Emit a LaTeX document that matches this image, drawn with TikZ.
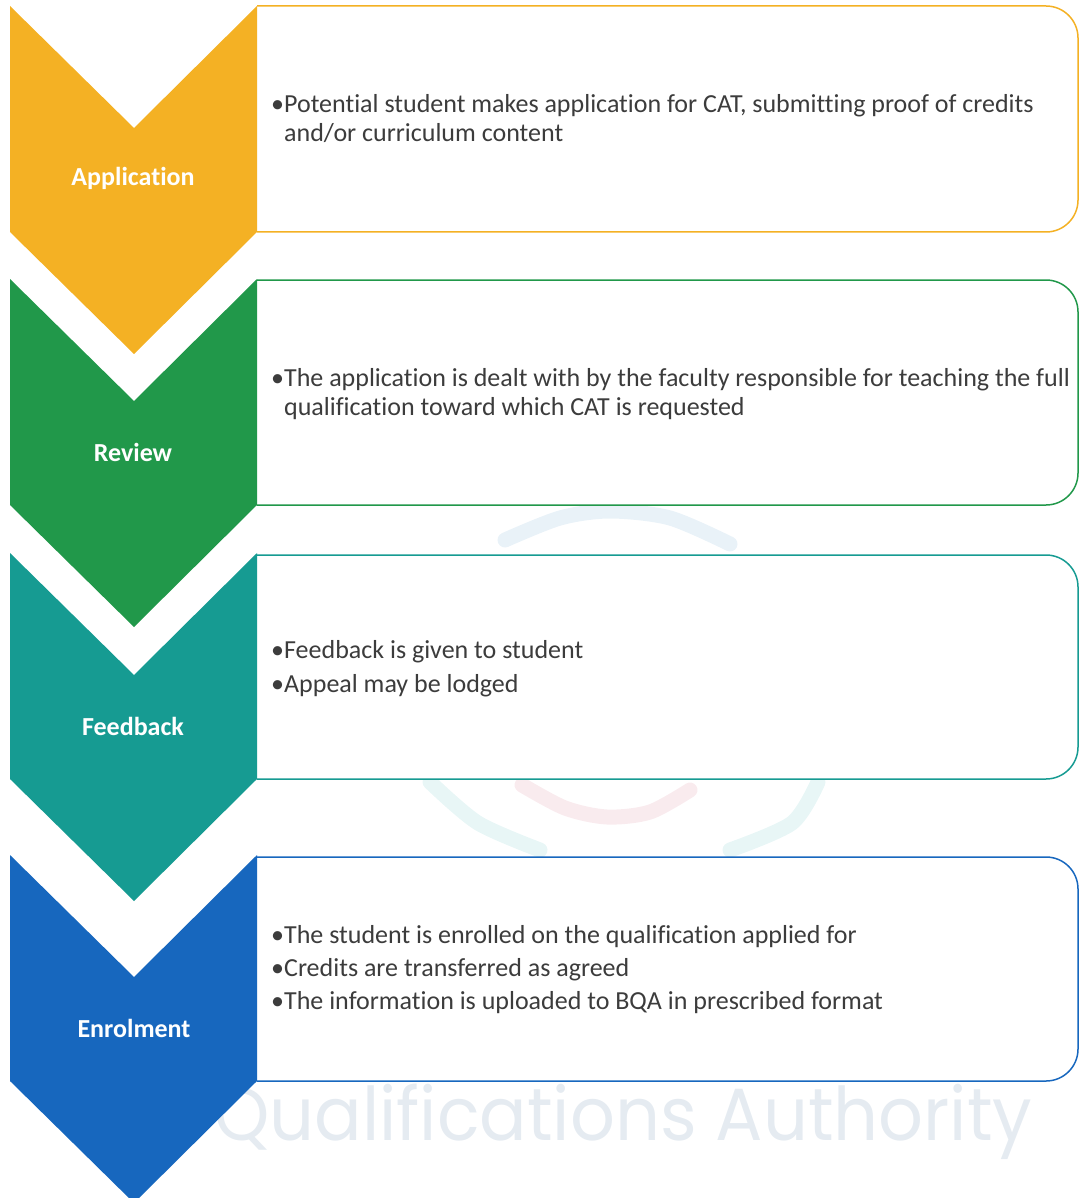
\documentclass[tikz,border=0pt]{standalone}
\usepackage{fontspec}
\setmainfont{Carlito}[Ligatures=NoCommon]
\newfontfamily\markfont{Poppins}
\usepackage{tikz}

\definecolor{appyellow}{HTML}{F4B124}
\definecolor{revgreen}{HTML}{21984A}
\definecolor{fbteal}{HTML}{169B92}
\definecolor{enrblue}{HTML}{1767BE}
\definecolor{textgray}{HTML}{3C3C3C}
\definecolor{markgray}{HTML}{E5EBF1}
\definecolor{markblue}{HTML}{E9F2F8}
\definecolor{markcyan}{HTML}{E8F6F6}
\definecolor{markpink}{HTML}{F9EBEE}

\tikzset{
    stepbox/.style={draw=#1, line width=1.5pt, fill=white, rounded corners=32pt},
    steplabel/.style={text=white, font=\fontsize{26}{30}\selectfont\bfseries},
    steptext/.style={text=textgray, anchor=base west, inner sep=0pt,
        font=\fontsize{26}{29}\selectfont},
    markarc/.style={line width=15pt, line cap=round}
}

\begin{document}
\begin{tikzpicture}[x=1pt,y=-1pt]
    \useasboundingbox (0,0) rectangle (1079,1198);
    % watermark
    \draw[markarc, markblue] plot[smooth] coordinates {(505,540) (560,518) (610,511) (670,518) (730,544)};
    \draw[markarc, markcyan] plot[smooth] coordinates {(430,782) (478,823) (540,850)};
    \draw[markarc, markcyan] plot[smooth] coordinates {(818,782) (792,823) (730,850)};
    \draw[markarc, markpink] plot[smooth] coordinates {(522,785) (565,808) (607,817) (650,812) (690,790)};
    \node[text=markgray, font=\markfont\fontsize{74}{80}\selectfont, anchor=base west, xscale=0.95, inner sep=0pt] (mark) at (214,1140) {Qualifications Authority};
    % boxes
    \draw[stepbox=appyellow] (257,232) -- (1078,232) -- (1078,6) -- (257,6);
    \draw[stepbox=revgreen] (257,505) -- (1078,505) -- (1078,280) -- (257,280);
    \draw[stepbox=fbteal] (257,779) -- (1078,779) -- (1078,555) -- (257,555);
    \draw[stepbox=enrblue] (257,1081) -- (1078,1081) -- (1078,857) -- (257,857);
    % chevrons
    \fill[appyellow] (10,6) -- (134,128) -- (257,6) -- (257,232) -- (134,354) -- (10,232) -- cycle;
    \fill[revgreen] (10,279) -- (134,401) -- (257,279) -- (257,505) -- (134,627) -- (10,505) -- cycle;
    \fill[fbteal] (10,553) -- (134,675) -- (257,553) -- (257,779) -- (134,901) -- (10,779) -- cycle;
    \fill[enrblue] (10,855) -- (134,977) -- (257,855) -- (257,1081) -- (134,1203) -- (10,1081) -- cycle;
    % labels
    \node[steplabel] (application) at (133,178) {Application};
    \node[steplabel] (review) at (133,452) {Review};
    \node[steplabel] (feedback) at (133,726) {Feedback};
    \node[steplabel] (enrolment) at (134,1028) {Enrolment};
    % texts
    \node[steptext] (applicationtext) at (271,113) {\begin{tabular}[t]{@{}l@{}l@{}}
        •&Potential student makes application for CAT, submitting proof of credits\\
        &and/or curriculum content
    \end{tabular}};
    \node[steptext] (reviewtext) at (271,386) {\begin{tabular}[t]{@{}l@{}l@{}}
        •&The application is dealt with by the faculty responsible for teaching the full\\
        &qualification toward which CAT is requested
    \end{tabular}};
    \node[steptext] (feedbacktext) at (271,658) {\begin{tabular}[t]{@{}l@{}l@{}}
        •&Feedback is given to student\\[5pt]
        •&Appeal may be lodged
    \end{tabular}};
    \node[steptext] (enrolmenttext) at (271,943) {\begin{tabular}[t]{@{}l@{}l@{}}
        •&The student is enrolled on the qualification applied for\\[4pt]
        •&Credits are transferred as agreed\\[4pt]
        •&The information is uploaded to BQA in prescribed format
    \end{tabular}};
\end{tikzpicture}
\end{document}
